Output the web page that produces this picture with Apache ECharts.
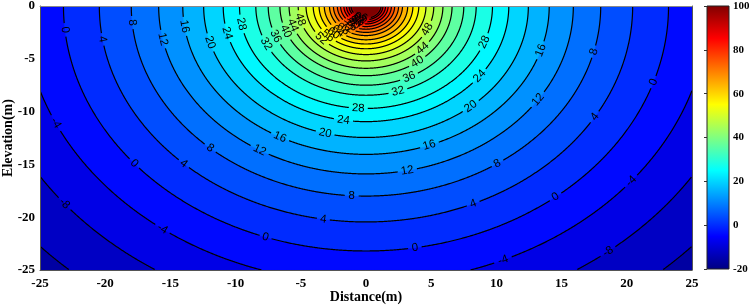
<!DOCTYPE html>
<html><head><meta charset="utf-8">
<script src="https://cdn.jsdelivr.net/npm/echarts@6/dist/echarts.min.js"></script>
<style>html,body{margin:0;padding:0;background:#fff}#c{width:749px;height:306px}</style>
</head><body><div id="c"></div>
<script>
// Contour levels and their radius (m) from the source point at (0,0)
const levels = [-16,-12,-8,-4,0,4,8,12,16,20,24,28,32,36,40,44,48,52,56,60,64,68,72,76,80,84,88,92,96,100];
const radii  = [38.4,33.8,29.75,26.25,23.2,20.45,18.0,15.9,14.05,12.45,10.95,9.7,8.45,7.5,6.6,5.9,5.2,4.6,4.05,3.6,3.2,2.8,2.5,2.2,1.95,1.7,1.5,1.3,1.15,1.02];
// Where each contour carries its inline label (angle in degrees around the source, 180 = left, 270 = down)
const labelAngles = {
  '-8':[219,308.6], '-4':[205,233.5,293.6,320.8], '0':[185.6,220,250.6,279.3,308.8,341.9],
  '4':[188.9,226.9,260.8,293.7,329.1], '8':[185,228.4,266.5,304,346.1], '12':[191.4,239.1,281.5,326.1],
  '16':[187.9,242,290.2,342.6], '20':[196.1,255.4,310.2], '24':[193.6,260.9,322.7], '28':[190.1,266.5,339.4],
  '32':[205.2,286.9], '36':[202.5,296.2], '40':[201.4,306.7], '44':[198,317.3], '48':[194.3,334.7],
  '52':[222], '56':[224], '60':[226], '64':[228], '68':[231], '72':[234], '76':[237], '80':[240], '84':[243], '88':[246], '92':[249], '96':[252]
};
const xRange = [-25, 25];
const yRange = [-25, 0];
const cbRange = [-20, 100];
const jetColors = ['#000080','#0000ff','#0080ff','#00ffff','#80ff80','#ffff00','#ff8000','#ff0000','#800000'];

const fillData = levels.map((l,i)=>[l, radii[i]]);
const lineData = levels.filter(l=>l>-16 && l<100).map(l=>[l, radii[levels.indexOf(l)]]);

function clamp(v,a,b){return Math.max(a,Math.min(b,v));}

function renderFill(params, api){
  const r = api.value(1);
  const pts = [];
  const N = 360;
  for (let i=0;i<=N;i++){
    const t = Math.PI + Math.PI*i/N;
    const x = clamp(r*Math.cos(t), xRange[0], xRange[1]);
    const y = clamp(r*Math.sin(t), yRange[0], yRange[1]);
    pts.push(api.coord([x,y]));
  }
  const c = api.visual('color');
  return {type:'polygon', shape:{points:pts}, style:{fill:c, stroke:c, lineWidth:0.3}};
}

function renderLine(params, api){
  const lv = api.value(0), r = api.value(1);
  const txt = String(lv);
  const angs = labelAngles[txt] || [];
  const sz = api.size([1,1]);
  const labels = angs.map(a=>{
    const t = a*Math.PI/180;
    const p = api.coord([r*Math.cos(t), r*Math.sin(t)]);
    let rot = Math.atan2(r*Math.cos(t)*sz[1], -r*Math.sin(t)*sz[0]);
    if (rot > Math.PI/2) rot -= Math.PI;
    if (rot < -Math.PI/2) rot += Math.PI;
    return {p, rot};
  });
  let w = 0;
  for (const ch of txt) w += (ch==='-'?3.9:6.4);
  const gap = w/2 + 3;
  const children = [];
  let cur = [];
  const flush = ()=>{ if (cur.length>1) children.push({type:'polyline', shape:{points:cur}, style:{stroke:'#000', lineWidth:1.2, fill:null}}); cur=[]; };
  const N = 900;
  for (let i=0;i<=N;i++){
    const t = Math.PI + Math.PI*i/N;
    const x = r*Math.cos(t), y = r*Math.sin(t);
    if (x<xRange[0]||x>xRange[1]||y<yRange[0]) { flush(); continue; }
    const p = api.coord([x,y]);
    if (labels.some(q=>Math.hypot(p[0]-q.p[0],p[1]-q.p[1])<gap)) { flush(); continue; }
    cur.push(p);
  }
  flush();
  labels.forEach(q=>{
    children.push({type:'text', x:q.p[0], y:q.p[1], rotation:q.rot,
      style:{text:txt, fill:'#000', fontSize:11.5, fontFamily:'"Liberation Sans", Arial, sans-serif', align:'center', verticalAlign:'middle'}});
  });
  return {type:'group', children};
}

function renderBar(params, api){
  const p0 = api.coord([0, cbRange[1]]);
  const p1 = api.coord([1, cbRange[0]]);
  const stops = jetColors.map((c,i)=>({offset: 1 - i/(jetColors.length-1), color:c})).reverse();
  return {type:'rect', shape:{x:p0[0], y:p0[1], width:p1[0]-p0[0], height:p1[1]-p0[1]},
    style:{fill:new echarts.graphic.LinearGradient(0,0,0,1,stops), stroke:'#222', lineWidth:1}};
}

const serif = '"Liberation Serif", "Times New Roman", serif';
const chart = echarts.init(document.getElementById('c'));
chart.setOption({
  animation:false,
  grid:[{left:40, top:6, width:652, height:264, outerBoundsMode:'none', containLabel:false},
        {left:707, top:6, width:22, height:263, outerBoundsMode:'none', containLabel:false}],
  visualMap:{show:false, type:'continuous', min:cbRange[0], max:cbRange[1], dimension:0, seriesIndex:0, inRange:{color:jetColors}},
  xAxis:[
    {gridIndex:0, type:'value', min:xRange[0], max:xRange[1], interval:5, name:'Distance(m)', nameLocation:'middle', nameGap:20, nameMoveOverlap:false,
     nameTextStyle:{fontFamily:serif, fontWeight:'bold', fontSize:14, color:'#000'},
     axisLine:{show:true, onZero:false, lineStyle:{color:'#555'}}, axisTick:{show:false}, splitLine:{show:false},
     axisLabel:{fontFamily:serif, fontWeight:'bold', fontSize:13, color:'#000', margin:7}, z:10},
    {gridIndex:1, type:'value', min:0, max:1, show:false},
    {gridIndex:0, type:'value', position:'top', min:xRange[0], max:xRange[1], axisLine:{show:true, onZero:false, lineStyle:{color:'#888'}}, axisTick:{show:false}, axisLabel:{show:false}, splitLine:{show:false}, z:10}
  ],
  yAxis:[
    {gridIndex:0, type:'value', min:yRange[0], max:yRange[1], interval:5, name:'Elevation(m)', nameLocation:'middle', nameGap:25, nameRotate:90, nameMoveOverlap:false,
     nameTextStyle:{fontFamily:serif, fontWeight:'bold', fontSize:14, color:'#000'},
     axisLine:{show:true, onZero:false, lineStyle:{color:'#555'}}, axisTick:{show:false}, splitLine:{show:false},
     axisLabel:{fontFamily:serif, fontWeight:'bold', fontSize:13, color:'#000', margin:5}, z:10},
    {gridIndex:1, type:'value', position:'right', min:cbRange[0], max:cbRange[1], interval:20,
     axisLine:{show:false}, axisTick:{show:true, inside:true, length:3, lineStyle:{color:'#333'}}, splitLine:{show:false},
     axisLabel:{fontFamily:serif, fontWeight:'bold', fontSize:11, color:'#000', margin:4}, z:10},
    {gridIndex:0, type:'value', position:'right', min:yRange[0], max:yRange[1], axisLine:{show:true, onZero:false, lineStyle:{color:'#555'}}, axisTick:{show:false}, axisLabel:{show:false}, splitLine:{show:false}, z:10}
  ],
  series:[
    {type:'custom', xAxisIndex:0, yAxisIndex:0, data:fillData, renderItem:renderFill, clip:true, silent:true, z:2},
    {type:'custom', xAxisIndex:0, yAxisIndex:0, data:lineData, renderItem:renderLine, clip:true, silent:true, z:3},
    {type:'custom', xAxisIndex:1, yAxisIndex:1, data:[[0]], renderItem:renderBar, silent:true, z:2}
  ]
});
</script></body></html>
